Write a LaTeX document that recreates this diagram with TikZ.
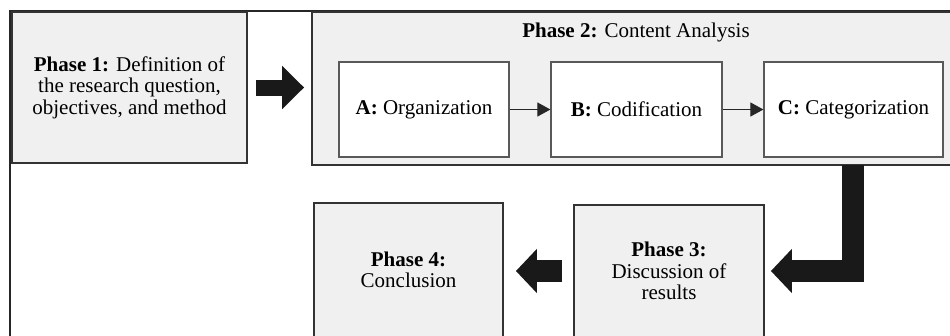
\documentclass[tikz,border=0pt]{standalone}
\usepackage{fontspec}
\setmainfont{Liberation Serif}
\usetikzlibrary{arrows.meta}

\begin{document}
\begin{tikzpicture}[x=1pt, y=-1pt,
    font=\fontsize{21}{21.5}\selectfont,
    phasebox/.style={draw=black!80, line width=1.8pt, fill=black!6, align=center, inner sep=0pt},
    stepbox/.style={draw=black!65, line width=1.2pt, fill=white, inner sep=0pt, minimum height=95pt},
    smallarr/.style={draw=black!85, line width=1pt, -{Triangle[length=13pt,width=14pt]}},
    bigarr/.style={draw=black!90, line width=22pt, line join=miter, -{Triangle[length=21pt,width=43pt]}}]
    \clip (0,0) rectangle (950,335);

    % Outer frame
    \draw[black!85, line width=2pt] (10,11) rectangle (965,350);

    % Phase 1
    \node[phasebox, minimum width=235pt, minimum height=151pt] (phase1) at (129.5,87.5)
        {\textbf{Phase 1:} Definition of\\the research question,\\objectives, and method};

    % Phase 2 with its three steps
    \node[phasebox, minimum width=643pt, minimum height=153pt] (phase2) at (633.5,88.5) {};
    \node (phase2title) at (636,32) {\textbf{Phase 2:} Content Analysis};
    \node[stepbox, minimum width=170pt] (orgA) at (424,109.5) {\textbf{A:} Organization};
    \node[stepbox, minimum width=171pt] (codB) at (636.5,109.5) {\textbf{B:} Codification};
    \node[stepbox, minimum width=179pt] (catC) at (853.5,109.5) {\textbf{C:} Categorization};
    \draw[smallarr] (orgA) -- (codB);
    \draw[smallarr] (codB) -- (catC);

    % Phases 3 and 4
    \node[phasebox, minimum width=190pt, minimum height=132pt] (phase3) at (669,271)
        {\textbf{Phase 3:}\\Discussion of\\results};
    \node[phasebox, minimum width=189pt, minimum height=134pt] (phase4) at (408.5,270)
        {\textbf{Phase 4:}\\Conclusion};

    % Block arrows
    \draw[bigarr, line width=16pt, -{Triangle[length=22pt,width=42pt]}, shorten <=8pt, shorten >=7pt]
        (phase1.east) -- (phase2.west |- phase1.east);
    \coordinate (bendtop) at (852.5,165);
    \draw[bigarr, shorten >=6pt] (bendtop) |- (phase3.east);
    \draw[bigarr, shorten <=11pt, shorten >=12pt] (phase3.west) -- (phase4.east |- phase3.west);
\end{tikzpicture}
\end{document}
